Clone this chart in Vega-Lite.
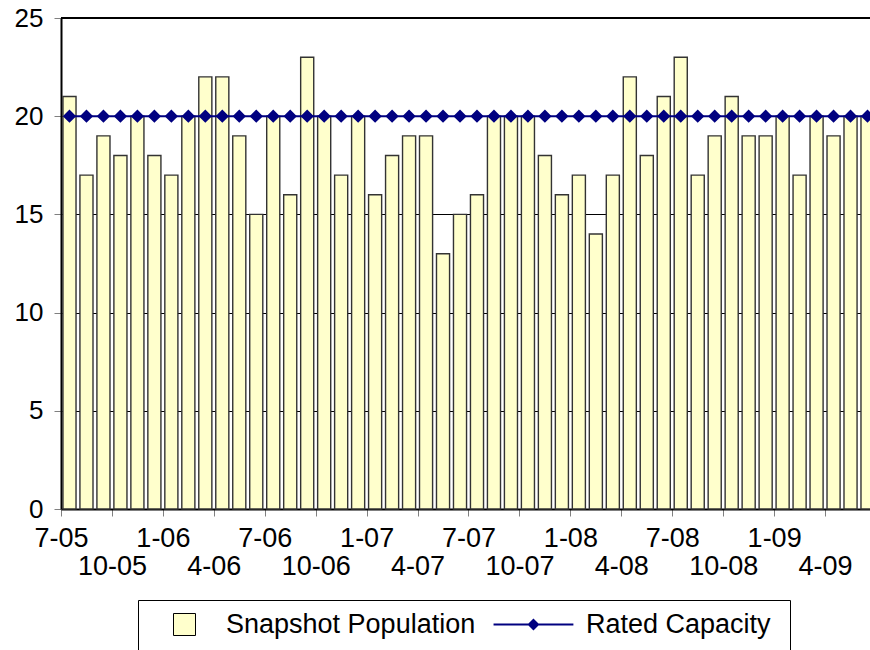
{
  "$schema": "https://vega.github.io/schema/vega-lite/v6.json",
  "width": 815,
  "height": 491,
  "autosize": {"type": "none"},
  "padding": {"left": 61, "top": 18, "right": -6, "bottom": 141},
  "background": "white",
  "config": {
    "font": "Liberation Sans",
    "view": {"stroke": null}
  },
  "data": {
    "values": [
      {"m": "7-05", "pop": 21, "cap": 20}, {"m": "8-05", "pop": 17, "cap": 20}, {"m": "9-05", "pop": 19, "cap": 20},
      {"m": "10-05", "pop": 18, "cap": 20}, {"m": "11-05", "pop": 20, "cap": 20}, {"m": "12-05", "pop": 18, "cap": 20},
      {"m": "1-06", "pop": 17, "cap": 20}, {"m": "2-06", "pop": 20, "cap": 20}, {"m": "3-06", "pop": 22, "cap": 20},
      {"m": "4-06", "pop": 22, "cap": 20}, {"m": "5-06", "pop": 19, "cap": 20}, {"m": "6-06", "pop": 15, "cap": 20},
      {"m": "7-06", "pop": 20, "cap": 20}, {"m": "8-06", "pop": 16, "cap": 20}, {"m": "9-06", "pop": 23, "cap": 20},
      {"m": "10-06", "pop": 20, "cap": 20}, {"m": "11-06", "pop": 17, "cap": 20}, {"m": "12-06", "pop": 20, "cap": 20},
      {"m": "1-07", "pop": 16, "cap": 20}, {"m": "2-07", "pop": 18, "cap": 20}, {"m": "3-07", "pop": 19, "cap": 20},
      {"m": "4-07", "pop": 19, "cap": 20}, {"m": "5-07", "pop": 13, "cap": 20}, {"m": "6-07", "pop": 15, "cap": 20},
      {"m": "7-07", "pop": 16, "cap": 20}, {"m": "8-07", "pop": 20, "cap": 20}, {"m": "9-07", "pop": 20, "cap": 20},
      {"m": "10-07", "pop": 20, "cap": 20}, {"m": "11-07", "pop": 18, "cap": 20}, {"m": "12-07", "pop": 16, "cap": 20},
      {"m": "1-08", "pop": 17, "cap": 20}, {"m": "2-08", "pop": 14, "cap": 20}, {"m": "3-08", "pop": 17, "cap": 20},
      {"m": "4-08", "pop": 22, "cap": 20}, {"m": "5-08", "pop": 18, "cap": 20}, {"m": "6-08", "pop": 21, "cap": 20},
      {"m": "7-08", "pop": 23, "cap": 20}, {"m": "8-08", "pop": 17, "cap": 20}, {"m": "9-08", "pop": 19, "cap": 20},
      {"m": "10-08", "pop": 21, "cap": 20}, {"m": "11-08", "pop": 19, "cap": 20}, {"m": "12-08", "pop": 19, "cap": 20},
      {"m": "1-09", "pop": 20, "cap": 20}, {"m": "2-09", "pop": 17, "cap": 20}, {"m": "3-09", "pop": 20, "cap": 20},
      {"m": "4-09", "pop": 19, "cap": 20}, {"m": "5-09", "pop": 20, "cap": 20}, {"m": "6-09", "pop": 20, "cap": 20}
    ]
  },
  "layer": [
    {
      "mark": {"type": "bar", "width": {"band": 0.77}, "stroke": "#333333", "strokeWidth": 1.4},
      "encoding": {
        "x": {
          "field": "m", "type": "ordinal", "sort": null,
          "scale": {"paddingInner": 0, "paddingOuter": 0},
          "axis": {
            "title": null, "tickOffset": -8.49, "labelAngle": 0,
            "values": ["7-05", "10-05", "1-06", "4-06", "7-06", "10-06", "1-07", "4-07", "7-07", "10-07", "1-08", "4-08", "7-08", "10-08", "1-09", "4-09"],
            "labelExpr": "indexof(['1','7'], split(datum.value, '-')[0]) >= 0 ? datum.value : ['', datum.value]",
            "labelOverlap": false, "labelBound": false, "labelFlush": false,
            "labelFontSize": 27, "labelColor": "black", "labelLineHeight": 28, "labelBaseline": "top", "labelPadding": 9,
            "tickSize": 7, "tickColor": "#808080", "domainColor": "black", "domainWidth": 2, "grid": false
          }
        },
        "y": {
          "field": "pop", "type": "quantitative",
          "scale": {"domain": [0, 25], "nice": false},
          "axis": {
            "title": null, "values": [0, 5, 10, 15, 20, 25], "grid": true, "gridColor": "black", "gridWidth": 1,
            "tickSize": 7, "tickColor": "#808080", "domainColor": "black", "domainWidth": 2,
            "labelFontSize": 26, "labelColor": "black", "labelPadding": 11
          }
        },
        "fill": {
          "datum": "Snapshot Population", "type": "nominal",
          "scale": {"domain": ["Snapshot Population"], "range": ["#FFFFCC"]},
          "legend": {
            "orient": "none", "legendX": 77, "legendY": 582, "direction": "horizontal",
            "title": " ", "titleOrient": "left", "titleFontSize": 27, "titlePadding": 22,
            "strokeColor": "black", "fillColor": "white", "padding": 11,
            "labelFontSize": 27, "labelFont": "Liberation Sans", "labelColor": "black", "labelLimit": 0,
            "symbolSize": 484, "labelOffset": 28,
            "symbolType": "M53.8,0M0,4.5M-1,-1L1,-1L1,1L-1,1Z",
            "symbolStrokeColor": "black", "symbolStrokeWidth": 1, "symbolOpacity": 1
          }
        }
      }
    },
    {
      "mark": {"type": "line", "strokeWidth": 2, "point": {"shape": "diamond", "size": 110, "filled": true, "fill": "#000080"}},
      "encoding": {
        "x": {"field": "m", "type": "ordinal", "sort": null},
        "y": {"field": "cap", "type": "quantitative"},
        "stroke": {
          "datum": "Rated Capacity", "type": "nominal",
          "scale": {"domain": ["Rated Capacity"], "range": ["#000080"]},
          "legend": {
            "orient": "none", "legendX": 467, "legendY": 593, "direction": "horizontal", "title": null,
            "padding": 0,
            "labelFontSize": 27, "labelFont": "Liberation Sans", "labelColor": "black", "labelLimit": 0,
            "symbolSize": 484, "labelOffset": 31,
            "symbolType": "M-4.36,0L2.9,0M-0.73,-0.42L-0.31,0L-0.73,0.42L-1.15,0Z",
            "symbolFillColor": "#000080", "symbolStrokeWidth": 2, "symbolOpacity": 1
          }
        }
      }
    },
    {
      "mark": {"type": "rule", "color": "black", "strokeWidth": 2},
      "encoding": {"y": {"datum": 25}}
    }
  ]
}
